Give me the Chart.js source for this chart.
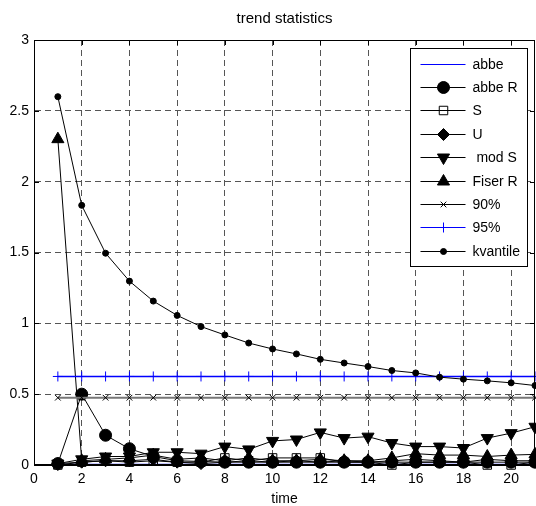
<!DOCTYPE html>
<html>
<head>
<meta charset="utf-8">
<script src="https://cdn.jsdelivr.net/npm/chart.js@4.4.1/dist/chart.umd.min.js"></script>
<style>
html,body{margin:0;padding:0;background:#fff;overflow:hidden;}
canvas{display:block;}
</style>
</head>
<body>
<canvas id="trendChart" width="536" height="506"></canvas>
<script>
const time = [1,2,3,4,5,6,7,8,9,10,11,12,13,14,15,16,17,18,19,20,21];

const abbe = [0.005,0.005,0.005,0.005,0.005,0.005,0.005,0.005,0.005,0.005,0.005,0.005,0.005,0.005,0.005,0.005,0.005,0.005,0.005,0.005,0.005];
const abbeR = [0.01,0.5,0.21,0.115,0.06,0.03,0.025,0.02,0.02,0.02,0.02,0.02,0.02,0.02,0.02,0.02,0.02,0.02,0.02,0.02,0.02];
const S = [0,0.02,0.03,0.02,0.03,0.02,0.02,0.05,0.03,0.05,0.05,0.05,0.02,0.02,0,0.02,0.02,0.02,0,0,0.02];
const U = [0.01,0.02,0.03,0.03,0.04,0.02,0.01,0.02,0.03,0.02,0.03,0.02,0.03,0.02,0.03,0.04,0.03,0.02,0.04,0.03,0.03];
const modS = [0.01,0.04,0.06,0.06,0.09,0.09,0.08,0.13,0.11,0.17,0.18,0.23,0.19,0.2,0.155,0.13,0.13,0.12,0.19,0.225,0.27];
const fiserR = [2.3,0.03,0.04,0.05,0.07,0.04,0.05,0.03,0.05,0.03,0.03,0.04,0.03,0.03,0.05,0.08,0.07,0.07,0.06,0.07,0.075];
const p90 = [0.475,0.475,0.475,0.475,0.475,0.475,0.475,0.475,0.475,0.475,0.475,0.475,0.475,0.475,0.475,0.475,0.475,0.475,0.475,0.475,0.475];
const p95 = [0.625,0.625,0.625,0.625,0.625,0.625,0.625,0.625,0.625,0.625,0.625,0.625,0.625,0.625,0.625,0.625,0.625,0.625,0.625,0.625,0.625];
const kvantile = [2.6,1.833,1.495,1.298,1.157,1.056,0.977,0.918,0.861,0.819,0.784,0.746,0.72,0.695,0.667,0.65,0.62,0.606,0.594,0.58,0.561];

const labels = ["abbe","abbe R","S","U"," mod S","Fiser R","90%","95%","kvantile"];
const values = [abbe,abbeR,S,U,modS,fiserR,p90,p95,kvantile];

const FONT = "'Liberation Sans', Arial, sans-serif";

// style per series, same order as labels
const styles = [
    {line:"#0000ff", width:1, point:false, r:0},
    {line:"#000", width:1, point:"circle", r:6, fill:"#000"},
    {line:"#000", width:1, point:"rect", r:6, fill:"rgba(0,0,0,0)"},
    {line:"#000", width:1, point:"rectRot", r:6, fill:"#000"},
    {line:"#000", width:1, point:"triangle", r:7, fill:"#000", rot:180},
    {line:"#000", width:1, point:"triangle", r:7, fill:"#000"},
    {line:"#777", width:2, point:"crossRot", r:4, fill:"#000", mark:"#000"},
    {line:"#0000ff", width:1.5, point:"cross", r:5, fill:"#0000ff", mark:"#0000ff"},
    {line:"#000", width:1, point:"circle", r:3, fill:"#000"}
];

const datasets = labels.map((name,i)=>{
    const s = styles[i];
    return {
        label:name,
        data:time.map((t,j)=>({x:t,y:values[i][j]})),
        borderColor:s.line,
        borderWidth:s.width,
        backgroundColor:s.fill || s.line,
        pointStyle:s.point,
        pointRadius:s.r,
        pointHoverRadius:s.r,
        pointRotation:s.rot || 0,
        pointBorderColor:s.mark || "#000",
        pointBorderWidth:1,
        pointBackgroundColor:s.fill || s.line,
        tension:0,
        fill:false,
        clip:false,
        order:labels.length - i
    };
});

// box, inward ticks and the legend inside the axes, like the original plot
const framePlugin = {
    id:"frame",
    afterDatasetsDraw(chart){
        const {ctx, chartArea:a, scales:{x,y}} = chart;
        ctx.save();
        ctx.strokeStyle = "#000";
        ctx.lineWidth = 1;
        ctx.beginPath();
        x.ticks.forEach(t=>{
            const px = Math.round(x.getPixelForValue(t.value)) + 0.5;
            ctx.moveTo(px,a.bottom); ctx.lineTo(px,a.bottom-5);
            ctx.moveTo(px,a.top); ctx.lineTo(px,a.top+5);
        });
        y.ticks.forEach(t=>{
            const py = Math.round(y.getPixelForValue(t.value)) + 0.5;
            ctx.moveTo(a.left,py); ctx.lineTo(a.left+5,py);
            ctx.moveTo(a.right,py); ctx.lineTo(a.right-5,py);
        });
        ctx.stroke();
        ctx.strokeRect(Math.round(a.left)+0.5, Math.round(a.top)+0.5,
            Math.round(a.width)-1, Math.round(a.height)-1);

        // legend
        const w = 117, h = 218;
        const lx = Math.round(a.right) - 8 - w + 0.5;
        const ly = Math.round(a.top) + 8 + 0.5;
        ctx.fillStyle = "#fff";
        ctx.fillRect(lx, ly, w, h);
        ctx.strokeRect(lx, ly, w, h);
        ctx.font = "14px " + FONT;
        ctx.textBaseline = "middle";
        ctx.textAlign = "left";
        labels.forEach((name,i)=>{
            const s = styles[i];
            const cy = Math.round(ly + 15 + i*23.4) + 0.5;
            ctx.strokeStyle = s.line === "#777" ? "#000" : s.line;
            ctx.lineWidth = 1;
            ctx.beginPath();
            ctx.moveTo(lx+10, cy); ctx.lineTo(lx+55, cy);
            ctx.stroke();
            if (s.point) {
                ctx.fillStyle = s.fill;
                ctx.strokeStyle = s.mark || "#000";
                Chart.helpers.drawPoint(ctx, {pointStyle:s.point, radius:s.r, rotation:s.rot || 0, borderWidth:1}, lx+33, cy);
            }
            ctx.fillStyle = "#000";
            ctx.fillText(name, lx+62, cy + 1);
        });
        ctx.restore();
    }
};

new Chart(document.getElementById("trendChart"), {
    type:"line",
    data:{datasets:datasets},
    plugins:[framePlugin],
    options:{
        responsive:false,
        animation:false,
        events:[],
        layout:{autoPadding:false,padding:{left:0,right:1,top:0,bottom:0}},
        plugins:{
            legend:{display:false},
            tooltip:{enabled:false},
            title:{
                display:true,
                fullSize:false,
                text:"trend statistics",
                color:"#000",
                font:{family:FONT,size:15,weight:"normal"},
                padding:{top:10,bottom:12}
            }
        },
        scales:{
            x:{
                type:"linear",
                min:0,
                max:21,
                afterFit:s=>{ s.height = 41; },
                ticks:{stepSize:2,includeBounds:false,color:"#000",padding:6,maxRotation:0,
                    font:{family:FONT,size:14}},
                grid:{color:"#555",drawTicks:false},
                border:{display:true,color:"#000",dash:[6,4]},
                title:{display:true,text:"time",color:"#000",font:{family:FONT,size:14},padding:{top:0,bottom:-2}}
            },
            y:{
                min:0,
                max:3,
                afterFit:s=>{ s.width = 34; },
                ticks:{stepSize:0.5,color:"#000",padding:5,font:{family:FONT,size:14},
                    callback:v=>String(v)},
                grid:{color:"#555",drawTicks:false},
                border:{display:true,color:"#000",dash:[6,4]}
            }
        }
    }
});
</script>
</body>
</html>
